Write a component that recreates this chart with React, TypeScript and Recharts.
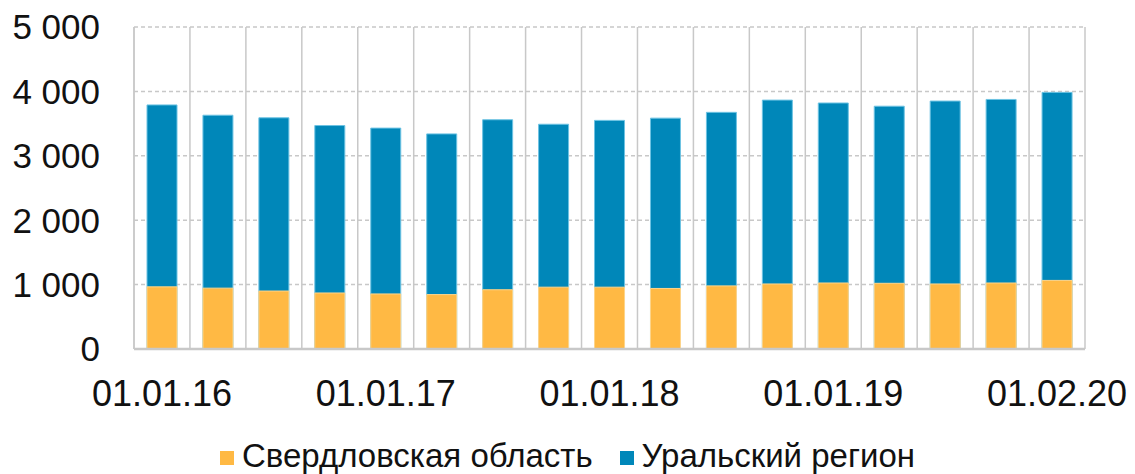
import { BarChart, Bar, XAxis, YAxis, CartesianGrid, Legend } from 'recharts';

const dates = [
  '01.01.16', '01.04.16', '01.07.16', '01.10.16',
  '01.01.17', '01.04.17', '01.07.17', '01.10.17',
  '01.01.18', '01.04.18', '01.07.18', '01.10.18',
  '01.01.19', '01.04.19', '01.07.19', '01.10.19',
  '01.02.20',
];

const sverdlovsk = [965, 945, 900, 870, 855, 845, 920, 960, 960, 940, 980, 1010, 1025, 1020, 1010, 1025, 1065];
const ural = [3790, 3630, 3590, 3470, 3430, 3340, 3560, 3490, 3550, 3585, 3675, 3865, 3820, 3770, 3850, 3875, 3985];

const yTicks = [0, 1000, 2000, 3000, 4000, 5000];

const data = dates.map((date, i) => ({ date, sverdlovsk: sverdlovsk[i], ural: ural[i] }));

const ORANGE = '#FFB944';
const BLUE = '#0087B9';
const FONT = '"Liberation Sans", Arial, sans-serif';

const fmt = (v: number) => String(v).replace(/\B(?=(\d{3})+(?!\d))/g, ' ');

function LegendBox() {
  const items = [
    { label: 'Свердловская область', color: ORANGE },
    { label: 'Уральский регион', color: BLUE },
  ];
  return (
    <div style={{ display: 'flex', justifyContent: 'center', gap: 27, fontFamily: FONT, fontSize: 33, lineHeight: '36px', color: '#111' }}>
      {items.map((it) => (
        <div key={it.label} style={{ display: 'flex', alignItems: 'center' }}>
          <span style={{ display: 'inline-block', width: 14, height: 14, background: it.color, marginRight: 8, marginTop: 4 }} />
          <span>{it.label}</span>
        </div>
      ))}
    </div>
  );
}

export default function App() {
  return (
    <div style={{ position: 'absolute', left: 0, top: 0, background: '#fff' }}>
      <BarChart
        width={1135}
        height={474}
        data={data}
        margin={{ top: 27, right: 50, left: 0, bottom: 65 }}
        barSize={30}
      >
        <CartesianGrid vertical={false} stroke="#C8C8C8" strokeDasharray="4 3" strokeWidth={1.5} />
        <CartesianGrid
          horizontal={false}
          stroke="#C8C8C8"
          strokeWidth={1.5}
          verticalCoordinatesGenerator={({ offset }: any) =>
            Array.from({ length: dates.length + 1 }, (_, i) => offset.left + (offset.width * i) / dates.length)
          }
        />
        <XAxis
          dataKey="date"
          xAxisId="back"
          interval={3}
          height={60}
          tickSize={0}
          tickMargin={31}
          axisLine={{ stroke: '#C8C8C8', strokeWidth: 2.5 }}
          tick={{ fill: '#111', fontSize: 36, fontFamily: FONT }}
        />
        <XAxis dataKey="date" xAxisId="front" hide />
        <YAxis
          domain={[0, 5000]}
          ticks={yTicks}
          width={134}
          tickSize={0}
          tickMargin={34}
          tickFormatter={fmt}
          axisLine={{ stroke: '#C8C8C8', strokeWidth: 1.5 }}
          tickLine={false}
          tick={{ fill: '#111', fontSize: 35, fontFamily: FONT }}
        />
        <Legend
          layout="vertical"
          verticalAlign="middle"
          align="center"
          content={<LegendBox />}
          wrapperStyle={{ left: 0, top: 438, width: 1135, height: 36 }}
        />
        <Bar dataKey="ural" name="Уральский регион" xAxisId="back" fill={BLUE} stroke="#6DC3E3" strokeWidth={1} isAnimationActive={false} />
        <Bar dataKey="sverdlovsk" name="Свердловская область" xAxisId="front" fill={ORANGE} stroke="#FFD58A" strokeWidth={1} isAnimationActive={false} />
      </BarChart>
    </div>
  );
}
